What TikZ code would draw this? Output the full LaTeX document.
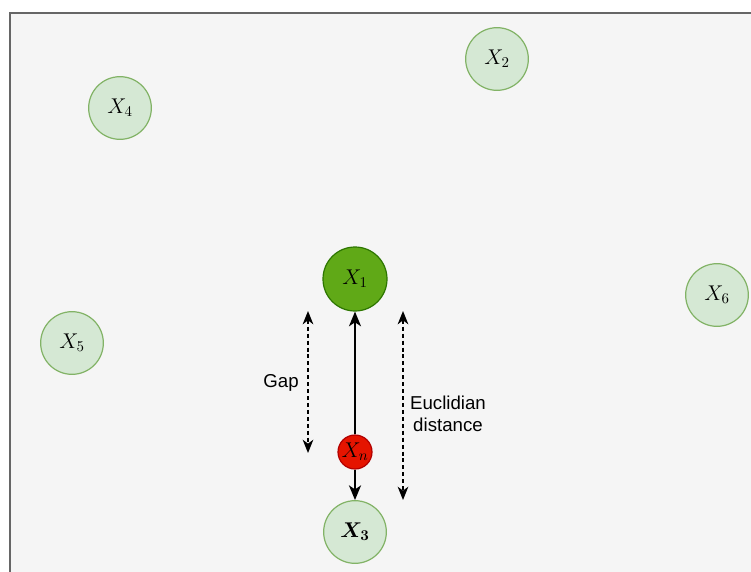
\documentclass[tikz,border=0pt]{standalone}
\usepackage{fix-cm}
\usepackage{fontspec}
\usepackage{bm}
\setsansfont{Liberation Sans}
\usetikzlibrary{arrows.meta}
\definecolor{bgfill}{HTML}{F5F5F5}
\definecolor{bgline}{HTML}{666666}
\definecolor{lgfill}{HTML}{D5E8D4}
\definecolor{lgline}{HTML}{82B366}
\definecolor{dgfill}{HTML}{60A917}
\definecolor{dgline}{HTML}{2D7600}
\definecolor{rdfill}{HTML}{E51400}
\definecolor{rdline}{HTML}{B20000}
\tikzset{
  pt/.style={circle, inner sep=0pt, line width=0.9pt, font=\fontsize{16}{18}\selectfont},
  light/.style={pt, minimum size=47pt, fill=lgfill, draw=lgline},
  dark/.style={pt, minimum size=48pt, fill=dgfill, draw=dgline},
  redpt/.style={pt, minimum size=25.5pt, fill=rdfill, draw=rdline},
  conn/.style={line width=1.5pt, -{Stealth[length=11pt,width=9pt,inset=3pt]}},
  dim/.style={line width=1.1pt, dash pattern=on 3pt off 2.2pt, {Stealth[length=10pt,width=8pt,inset=3pt]}-{Stealth[length=10pt,width=8pt,inset=3pt]}},
  lbl/.style={font=\sffamily\fontsize{14}{16.5}\selectfont, align=center}
}
\begin{document}
\begin{tikzpicture}[x=0.75pt,y=-0.75pt]
\useasboundingbox (0,0) rectangle (751,572);
\clip (0,0) rectangle (751,572);
\draw[fill=bgfill, draw=bgline, line width=1pt] (10,13) rectangle (770,590);
\node[light] (x2) at (497,59) {$X_2$};
\node[light] (x4) at (120,108) {$X_4$};
\node[dark] (x1) at (355,279) {$X_1$};
\node[light] (x6) at (717,295) {$X_6$};
\node[light] (x5) at (72,343) {$X_5$};
\node[redpt] (xn) at (355,452) {$X_n$};
\node[light] (x3) at (355,532) {$\bm{X_3}$};
\draw[conn] (xn) -- (x1);
\draw[conn] (xn) -- (x3);
\coordinate (g1) at (308,311);
\coordinate (g2) at (308,453);
\coordinate (e1) at (403,311);
\coordinate (e2) at (403,500);
\draw[dim] (g1) -- (g2);
\draw[dim] (e1) -- (e2);
\node[lbl] (gap) at (281,383) {Gap};
\node[lbl] (ed) at (448,414) {Euclidian\\distance};
\end{tikzpicture}
\end{document}
